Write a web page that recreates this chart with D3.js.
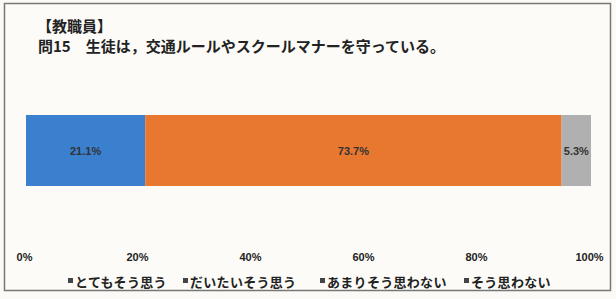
<!DOCTYPE html>
<html>
<head>
<meta charset="utf-8">
<script src="https://cdn.jsdelivr.net/npm/d3@7"></script>
<style>
  body { margin: 0; background: #fbfaf6; }
  svg { display: block; }
  text { font-family: "Noto Sans CJK JP", sans-serif; fill: #222; }
</style>
</head>
<body>
<div id="chart"></div>
<script>
// data
var categories = ["とてもそう思う", "だいたいそう思う", "あまりそう思わない", "そう思わない"];
var values = [21.1, 73.7, 0, 5.3];
var colors = ["#3b7fcf", "#e8772f", "#a5a5a5", "#b0b0b0"];
var tickValues = [0, 20, 40, 60, 80, 100];

var width = 616, height = 299;

var svg = d3.select("#chart").append("svg")
    .attr("width", width)
    .attr("height", height);

// scanned frame
svg.append("rect")
    .attr("x", 4.5).attr("y", 3.5)
    .attr("width", 606).attr("height", 287)
    .attr("fill", "#fcfbf7")
    .attr("stroke", "#777")
    .attr("stroke-width", 1.5);

// titles
svg.append("text")
    .attr("x", 37).attr("y", 32)
    .style("font-size", "15px").style("font-weight", "bold")
    .text("【教職員】");

svg.append("text")
    .attr("x", 38).attr("y", 52)
    .style("font-size", "15px").style("font-weight", "bold")
    .text("問15　生徒は，交通ルールやスクールマナーを守っている。");

var x = d3.scaleLinear().domain([0, 100]).range([26, 591]);
var barTop = 115, barH = 71;

// stack the series
var stacked = [];
var acc = 0;
values.forEach(function (v, i) {
    stacked.push({ name: categories[i], value: v, x0: acc, x1: acc + v, color: colors[i] });
    acc += v;
});

svg.append("g")
    .selectAll("rect")
    .data(stacked.filter(function (d) { return d.value > 0; }))
    .enter().append("rect")
    .attr("x", function (d) { return x(d.x0); })
    .attr("y", barTop)
    .attr("width", function (d) { return Math.min(x(d.x1), x(100)) - x(d.x0); })
    .attr("height", barH)
    .attr("fill", function (d) { return d.color; });

// data labels
svg.append("g")
    .selectAll("text")
    .data(stacked.filter(function (d) { return d.value > 0; }))
    .enter().append("text")
    .attr("x", function (d) { return (x(d.x0) + Math.min(x(d.x1), x(100))) / 2; })
    .attr("y", barTop + barH / 2 + 4)
    .attr("text-anchor", "middle")
    .style("font-family", "'Liberation Sans Narrow', 'Liberation Sans', sans-serif")
    .style("font-size", "11px").style("font-weight", "bold")
    .style("fill", "#333")
    .text(function (d) { return d.value.toFixed(1) + "%"; });

// axis
var axis = d3.axisBottom(x)
    .tickValues(tickValues)
    .tickSize(0)
    .tickFormat(function (d) { return d + "%"; });

var ax = svg.append("g")
    .attr("transform", "translate(0,250)")
    .call(axis);
ax.select(".domain").remove();
ax.selectAll("text")
    .attr("dx", -2)
    .style("font-family", "'Liberation Sans Narrow', 'Liberation Sans', sans-serif")
    .style("font-size", "11px").style("font-weight", "bold")
    .style("fill", "#222");

// legend
var legendX = [68, 183, 320, 464];
var legend = svg.append("g")
    .selectAll("g")
    .data(categories)
    .enter().append("g")
    .attr("transform", function (d, i) { return "translate(" + legendX[i] + ",282)"; });

legend.append("rect")
    .attr("x", 0).attr("y", -4)
    .attr("width", 5).attr("height", 5)
    .attr("fill", "#444");

legend.append("text")
    .attr("x", 7).attr("y", 5)
    .style("font-size", "13px").style("font-weight", "bold")
    .style("letter-spacing", "0.3px")
    .text(function (d) { return d; });
</script>
</body>
</html>
